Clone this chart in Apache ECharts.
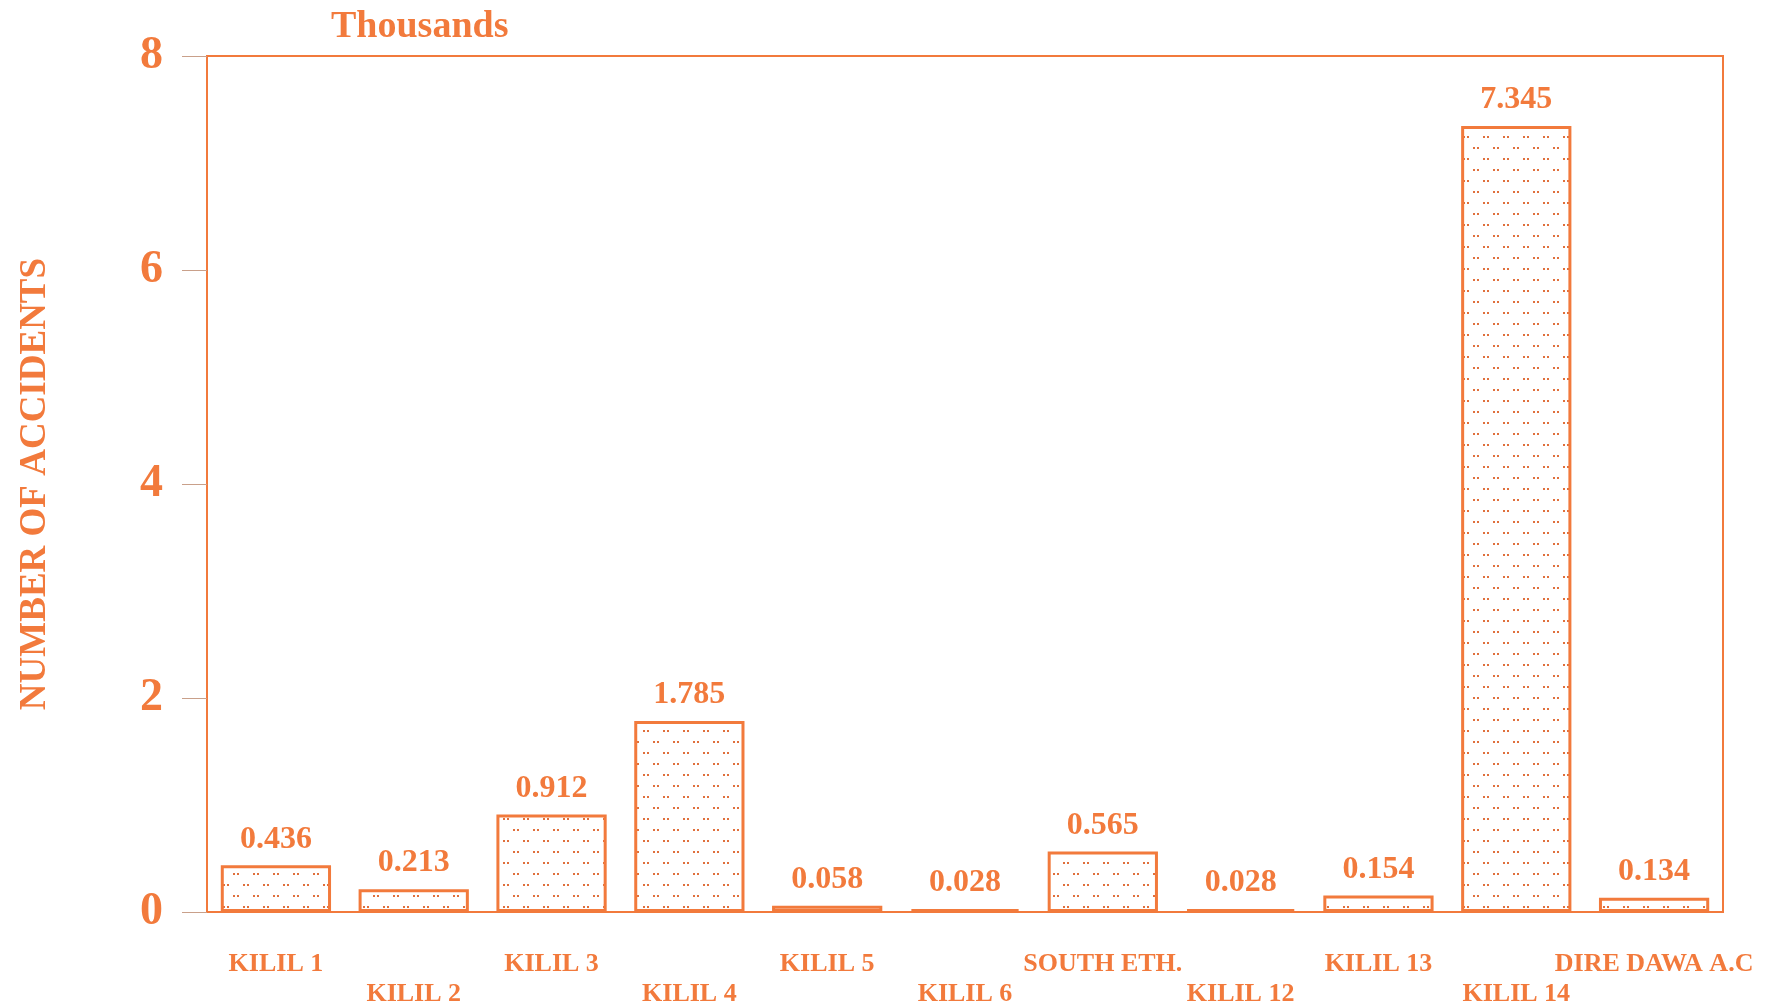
<!DOCTYPE html>
<html>
<head>
<meta charset="utf-8">
<script src="https://cdn.jsdelivr.net/npm/echarts@6/dist/echarts.min.js"></script>
<style>
html,body{margin:0;padding:0;background:#fff;}
#myChart{width:1771px;height:1005px;}
</style>
</head>
<body>
<div id="myChart"></div>
<script>
var regions = ['KILIL 1', 'KILIL 2', 'KILIL 3', 'KILIL 4', 'KILIL 5', 'KILIL 6', 'SOUTH ETH.', 'KILIL 12', 'KILIL 13', 'KILIL 14', 'DIRE DAWA A.C'];
var accidents = [0.436, 0.213, 0.912, 1.785, 0.058, 0.028, 0.565, 0.028, 0.154, 7.345, 0.134];
var yTicks = [0, 2, 4, 6, 8];

var orange = '#F27A3C';
var serif = "'Liberation Serif', 'Times New Roman', serif";

// dotted fill like the scanned print
var tile = document.createElement('canvas');
tile.width = 20;
tile.height = 22;
var ctx = tile.getContext('2d');
ctx.fillStyle = '#ffffff';
ctx.fillRect(0, 0, 20, 22);
ctx.fillStyle = '#E0703C';
function pair(x, y) {
	ctx.fillRect(x, y, 2, 2);
	ctx.fillRect(x + 4, y, 2, 2);
}
pair(3, 4);
pair(13, 15);

var myChart = echarts.init(document.getElementById('myChart'));
myChart.setOption({
	backgroundColor: '#fff',
	animation: false,
	title: {
		text: 'Thousands',
		left: 326,
		top: 3,
		textStyle: {color: orange, fontFamily: serif, fontWeight: 'bold', fontSize: 38}
	},
	grid: {
		left: 207, right: 48, top: 56, bottom: 93,
		outerBoundsMode: 'none',
		containLabel: false,
		show: true,
		borderColor: orange,
		borderWidth: 2
	},
	xAxis: {
		type: 'category',
		data: regions,
		axisLine: {lineStyle: {color: orange, width: 2}},
		axisTick: {alignWithLabel: true, length: 28, lineStyle: {color: '#C9A08A', width: 1}},
		axisLabel: {
			interval: 0,
			margin: 37,
			color: orange,
			fontFamily: serif,
			fontWeight: 'bold',
			fontSize: 26,
			lineHeight: 30,
			formatter: function(v, i) {
				return i % 2 ? '\n' + v : v;
			}
		}
	},
	yAxis: {
		type: 'value',
		min: yTicks[0],
		max: yTicks[yTicks.length - 1],
		interval: 2,
		name: 'NUMBER OF ACCIDENTS',
		nameLocation: 'middle',
		nameGap: 153,
		nameTextStyle: {color: orange, fontFamily: serif, fontWeight: 'bold', fontSize: 37},
		axisLine: {show: true, lineStyle: {color: orange, width: 2}},
		axisTick: {show: true, length: 25, lineStyle: {color: '#C9A08A', width: 1}},
		splitLine: {show: false},
		axisLabel: {
			margin: 44,
			color: orange,
			fontFamily: serif,
			fontWeight: 'bold',
			fontSize: 46
		}
	},
	series: [{
		type: 'bar',
		data: accidents,
		barCategoryGap: '20%',
		itemStyle: {
			color: {image: tile, repeat: 'repeat'},
			borderColor: orange,
			borderWidth: 3
		},
		label: {
			show: true,
			position: 'top',
			distance: 10,
			color: orange,
			fontFamily: serif,
			fontWeight: 'bold',
			fontSize: 32,
			formatter: function(p) {
				return p.value.toFixed(3);
			}
		}
	}]
});
</script>
</body>
</html>
